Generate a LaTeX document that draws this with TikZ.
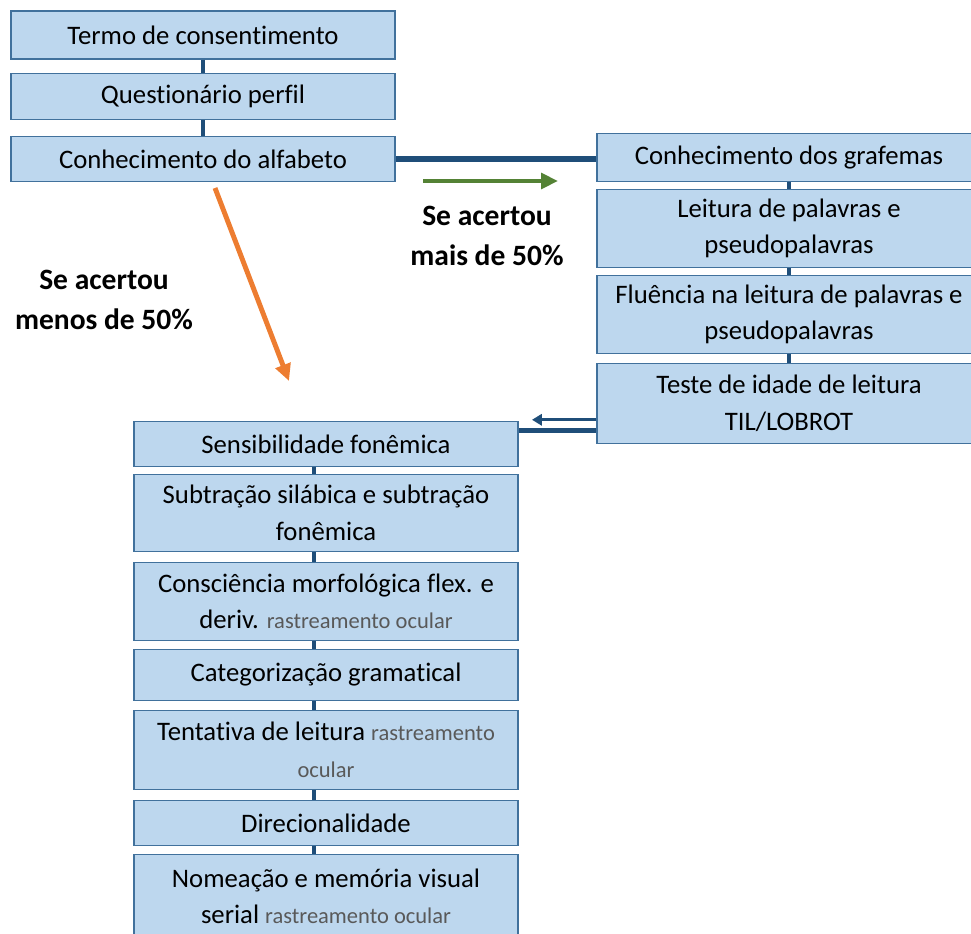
\documentclass[tikz,border=0pt]{standalone}
\usepackage{fontspec}
\setmainfont{Carlito}[Ligatures={NoCommon,NoRare,NoDiscretionary},Contextuals=NoAlternate]
\usetikzlibrary{arrows.meta}
\definecolor{caixa}{HTML}{BDD7EE}
\definecolor{borda}{HTML}{41719C}
\definecolor{linha}{HTML}{1F4E79}
\definecolor{verde}{HTML}{548235}
\definecolor{laranja}{HTML}{ED7D31}
\definecolor{cinza}{HTML}{595959}
\newcommand{\rastro}[1]{{\fontsize{16}{26}\selectfont\color{cinza}#1}}
\begin{document}
\begin{tikzpicture}[x=.025cm,y=-.025cm,
 etapa/.style={draw=borda,line width=1pt,fill=caixa,minimum width=9.6cm,align=center,inner sep=0pt,font=\fontsize{19}{26}\selectfont},
 liga/.style={draw=linha,line width=3.4pt},
 rotulo/.style={align=center,font=\fontsize{21}{28}\selectfont\bfseries}]
\useasboundingbox (0,0) rectangle (971,933);
% coluna de cima
\path (203,35) node[etapa,minimum height=1.2cm] (t1) {Termo de consentimento}
 (203,96.5) node[etapa,minimum height=1.15cm] (t2) {Questionário perfil}
 (203,159) node[etapa,minimum height=1.125cm] (t3) {Conhecimento do alfabeto};
% coluna da direita
\path (789,157.5) node[etapa,minimum height=1.2cm] (r1) {Conhecimento dos grafemas}
 (789,228.5) node[etapa,minimum height=1.95cm] (r2) {Leitura de palavras e\\pseudopalavras}
 (789,314.5) node[etapa,minimum height=1.95cm] (r3) {Fluência na leitura de palavras e\\pseudopalavras}
 (789,403.5) node[etapa,minimum height=2cm] (r4) {Teste de idade de leitura\\TIL/LOBROT};
% coluna de baixo
\path (326,444) node[etapa,minimum height=1.125cm] (l1) {Sensibilidade fonêmica}
 (326,513) node[etapa,minimum height=1.925cm] (l2) {Subtração silábica e subtração\\fonêmica}
 (326,601.5) node[etapa,minimum height=1.95cm] (l3) {Consciência morfológica flex. e\\deriv. \rastro{rastreamento ocular}}
 (326,675) node[etapa,minimum height=1.275cm] (l4) {Categorização gramatical}
 (326,750) node[etapa,minimum height=1.975cm] (l5) {Tentativa de leitura \rastro{rastreamento}\\\rastro{ocular}}
 (326,823) node[etapa,minimum height=1.125cm] (l6) {Direcionalidade}
 (326,896.5) node[etapa,minimum height=2.1cm] (l7) {Nomeação e memória visual\\serial \rastro{rastreamento ocular}};
\foreach \a/\b in {t1/t2, t2/t3, r1/r2, r2/r3, r3/r4} \draw[liga] (\a) -- (\b);
\foreach \a/\b in {l1/l2, l2/l3, l3/l4, l4/l5, l5/l6, l6/l7} \draw[liga] ([xshift=-.3cm]\a.south) -- ([xshift=-.3cm]\b.north);
\draw[liga,line width=3.6pt] (t3.east) -- (t3.east -| r1.west);
% setas
\coordinate (v1) at (423,181); \coordinate (v2) at (558,181);
\coordinate (o1) at (215,188); \coordinate (o2) at (289,381);
\draw[verde,line width=3.5pt,-{Triangle[length=12pt,width=11pt]}] (v1) -- (v2);
\draw[laranja,line width=3.5pt,-{Triangle[length=12pt,width=11pt]}] (o1) -- (o2);
\path (r4.north west) ++(0,57) coordinate (s1) (s1 -| 532,0) coordinate (s2)
 (l1.north east) ++(0,10) coordinate (s3);
\draw[linha,line width=2pt,-{Triangle[length=7pt,width=8pt]}] (s1) -- (s2);
\draw[liga,line width=3.6pt] (s3) -- (s3 -| r4.west);
\node[rotulo] (mais) at (487,236) {Se acertou\\mais de 50\%};
\node[rotulo] (menos) at (104,300) {Se acertou\\menos de 50\%};
\end{tikzpicture}
\end{document}
